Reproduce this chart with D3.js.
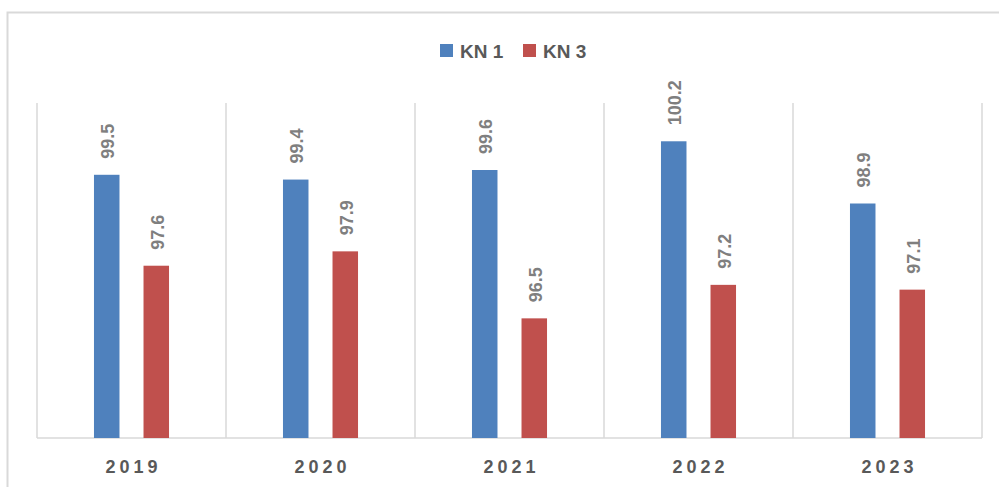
<!DOCTYPE html>
<html>
<head>
<meta charset="utf-8">
<script src="https://cdn.jsdelivr.net/npm/d3@7"></script>
<style>
  body { margin: 0; background: #fff; }
  svg { display: block; font-family: "Liberation Sans", Arial, sans-serif; }
  .grid line, .grid path { stroke: #d9d9d9; stroke-width: 1.5; }
  .value-label { fill: #7f7f7f; font-weight: bold; font-size: 18px; }
  .x-label { fill: #595959; font-weight: bold; font-size: 18px; letter-spacing: 4px; }
  .legend-text { fill: #595959; font-weight: bold; font-size: 19px; }
</style>
</head>
<body>
<div id="chart"></div>
<script>
const years = ["2019", "2020", "2021", "2022", "2023"];
const seriesNames = ["KN 1", "KN 3"];
const kn1 = [99.5, 99.4, 99.6, 100.2, 98.9];
const kn3 = [97.6, 97.9, 96.5, 97.2, 97.1];
const colors = ["#4f81bd", "#c0504d"];

const W = 999, H = 487;
const plot = { left: 37, right: 982, top: 103, bottom: 438 };

const svg = d3.select("#chart")
    .append("svg")
    .attr("width", W)
    .attr("height", H);

// outer chart frame (only top and left edges are in view)
svg.append("path")
    .attr("d", `M7.5,${H} V12.5 H${W}`)
    .attr("fill", "none")
    .attr("stroke", "#d9d9d9")
    .attr("stroke-width", 2);

// ──── Scales ────
const x0 = d3.scaleBand()
    .domain(years)
    .range([plot.left, plot.right])
    .padding(0);

const x1 = d3.scaleBand()
    .domain(seriesNames)
    .range([0, x0.bandwidth()])
    .paddingInner(0.485)
    .paddingOuter(1.15);

const y = d3.scaleLinear()
    .domain([94, 101])
    .range([plot.bottom, plot.top]);

// ──── Vertical category separators ────
const grid = svg.append("g").attr("class", "grid");
grid.selectAll("line.sep")
    .data(years.concat(["end"]))
    .join("line")
    .attr("class", "sep")
    .attr("x1", (d, i) => i < years.length ? x0(d) : plot.right)
    .attr("x2", (d, i) => i < years.length ? x0(d) : plot.right)
    .attr("y1", plot.top)
    .attr("y2", plot.bottom);

grid.append("line")
    .attr("x1", plot.left)
    .attr("x2", plot.right)
    .attr("y1", plot.bottom)
    .attr("y2", plot.bottom);

// ──── Bars ────
const rows = years.map((yr, i) => ({
    year: yr,
    values: [
        { name: seriesNames[0], value: kn1[i], color: colors[0] },
        { name: seriesNames[1], value: kn3[i], color: colors[1] }
    ]
}));

const groups = svg.selectAll("g.year")
    .data(rows)
    .join("g")
    .attr("class", "year")
    .attr("transform", d => `translate(${x0(d.year)},0)`);

groups.selectAll("rect")
    .data(d => d.values)
    .join("rect")
    .attr("x", d => x1(d.name))
    .attr("width", x1.bandwidth())
    .attr("y", d => y(d.value))
    .attr("height", d => plot.bottom - y(d.value))
    .attr("fill", d => d.color);

// rotated value labels
groups.selectAll("text")
    .data(d => d.values)
    .join("text")
    .attr("class", "value-label")
    .attr("transform", d => `translate(${x1(d.name) + x1.bandwidth() / 2 + 1},${y(d.value) - 16}) rotate(-90)`)
    .attr("dy", "0.35em")
    .attr("text-anchor", "start")
    .text(d => d.value.toFixed(1));

// ──── X axis labels ────
svg.append("g")
    .selectAll("text")
    .data(years)
    .join("text")
    .attr("class", "x-label")
    .attr("x", d => x0(d) + x0.bandwidth() / 2 + 2)
    .attr("y", 473)
    .attr("text-anchor", "middle")
    .text(d => d);

// ──── Legend ────
const legendX = [440, 523];
const legend = svg.append("g")
    .selectAll("g")
    .data(seriesNames)
    .join("g")
    .attr("transform", (d, i) => `translate(${legendX[i]},44)`);

legend.append("rect")
    .attr("width", 13)
    .attr("height", 13)
    .attr("fill", (d, i) => colors[i]);

legend.append("text")
    .attr("class", "legend-text")
    .attr("x", 20)
    .attr("y", 13.5)
    .text(d => d);
</script>
</body>
</html>
